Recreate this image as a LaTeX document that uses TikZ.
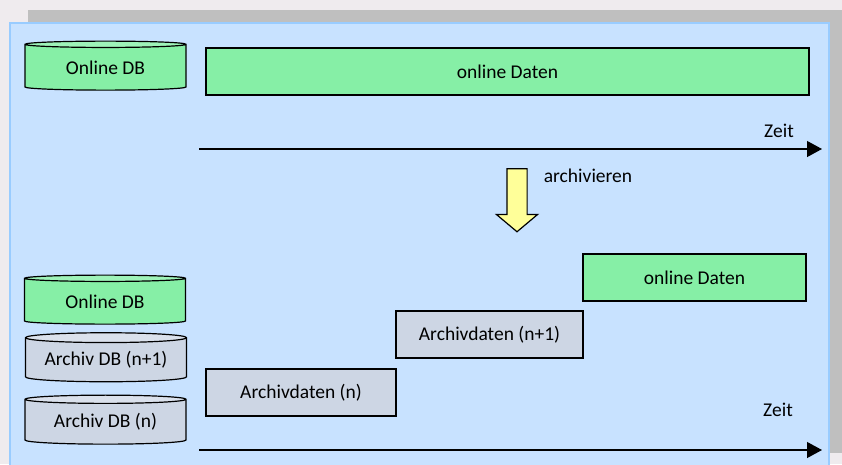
\documentclass[tikz,border=0pt]{standalone}
\usepackage{fontspec}
\setmainfont{Carlito}
\usetikzlibrary{positioning,shapes.geometric,shapes.arrows,arrows.meta}
\definecolor{seite}{RGB}{239,235,238}
\definecolor{schatten}{RGB}{191,191,191}
\definecolor{flaeche}{RGB}{200,226,255}
\definecolor{rahmen}{RGB}{153,204,255}
\definecolor{gruen}{RGB}{134,239,166}
\definecolor{gruendeckel}{RGB}{158,243,185}
\definecolor{grau}{RGB}{205,214,228}
\definecolor{graudeckel}{RGB}{218,225,236}
\definecolor{gelb}{RGB}{255,255,153}
\tikzstyle{DBNode}=[cylinder, shape border rotate=90, aspect=0.08, draw=black, line width=1.2pt, minimum width=161pt, minimum height=49pt, inner sep=0pt, cylinder uses custom fill]
\tikzstyle{OnlineDB}=[DBNode, cylinder body fill=gruen, cylinder end fill=gruendeckel]
\tikzstyle{ArchivDB}=[DBNode, cylinder body fill=grau, cylinder end fill=graudeckel]
\tikzstyle{DatenNode}=[rectangle, draw=black, line width=1.2pt, minimum height=47pt, inner sep=0pt]
\tikzstyle{ZeitPfeil}=[line width=1.2pt, -{Triangle[length=15pt,width=16pt]}]

\begin{document}
\begin{tikzpicture}[x=1pt, y=-1pt, font=\fontsize{19.5}{22}\selectfont]
    \useasboundingbox (0,0) rectangle (842,464);
    \fill [seite] (0,0) rectangle (842,464);
    \fill [schatten] (28,10) rectangle (842,453);
    \filldraw [fill=flaeche, draw=rahmen, line width=2pt] (10,23) rectangle (829,470);

    % oben
    \node (dbOnline) [OnlineDB] at (105.5,67.5) {Online DB};
    \node (datenOnline) [DatenNode, fill=gruen, minimum width=603pt] at (507.5,71.5) {online Daten};
    \coordinate (zeitStart) at (199,149);
    \coordinate (zeitEnde) at (822,149);
    \node (zeit) at (779,131) {Zeit};
    \draw [ZeitPfeil] (zeitStart) -- (zeitEnde);

    % archivieren
    \node (pfeil) [single arrow, rotate=-90, draw=black, line width=1.2pt, fill=gelb, minimum height=63pt, inner xsep=0pt, inner ysep=9.5pt, single arrow head extend=10.5pt, single arrow tip angle=100] at (517,196) {};
    \node (archivieren) at (588,176) {archivieren};

    % unten
    \node (dbOnlineNeu) [OnlineDB] at (105,301.5) {Online DB};
    \node (dbArchivN1) [ArchivDB] at (106,360) {Archiv DB (n+1)};
    \node (dbArchivN) [ArchivDB] at (105.5,422) {Archiv DB (n)};
    \node (archivN) [DatenNode, fill=grau, minimum width=190pt] at (301,392.5) {Archivdaten (n)};
    \node (archivN1) [DatenNode, fill=grau, minimum width=187pt] at (489.5,334.5) {Archivdaten (n+1)};
    \node (datenOnlineNeu) [DatenNode, fill=gruen, minimum width=223pt] at (694.5,277.5) {online Daten};
    \coordinate (zeitStartNeu) at (199,450);
    \coordinate (zeitEndeNeu) at (822,450);
    \node (zeitNeu) at (778,410) {Zeit};
    \draw [ZeitPfeil] (zeitStartNeu) -- (zeitEndeNeu);
\end{tikzpicture}
\end{document}
